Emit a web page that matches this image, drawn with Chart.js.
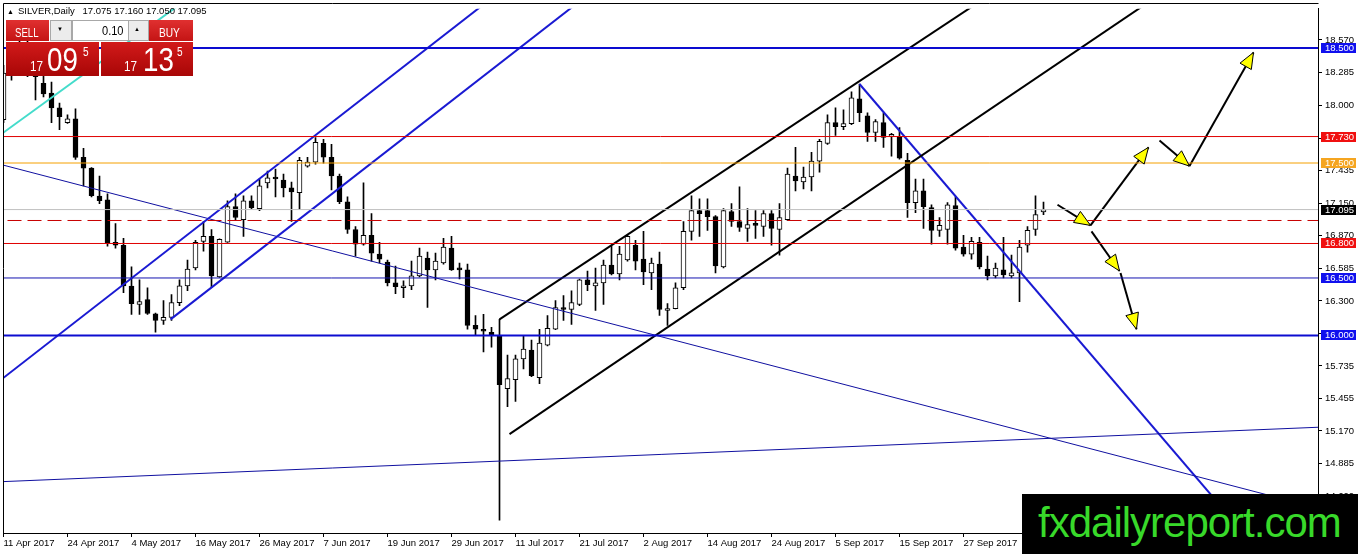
<!DOCTYPE html>
<html>
<head>
<meta charset="utf-8">
<title>SILVER, Daily</title>
<script src="https://cdn.jsdelivr.net/npm/chart.js@4.4.0/dist/chart.umd.min.js"></script>
<style>
  html, body { margin: 0; padding: 0; background: #fff; }
  #wrap { position: relative; width: 1358px; height: 554px; overflow: hidden;
          font-family: 'Liberation Sans', Arial, sans-serif; }
  #wrap canvas { position: absolute; left: 0; top: 0; }
  .abs { position: absolute; white-space: nowrap; }
  .sq { display: inline-block; transform: scaleX(0.84); transform-origin: left top; }
  .title { font-size: 9.5px; line-height: 9.5px; color: #000; }
  .red-top { top: 20px; height: 21px; background: linear-gradient(#e03030, #c41414); }
  .red-box { top: 42px; height: 34px; background: linear-gradient(#d21a1a, #a80606); }
  .spin { top: 20px; height: 19px; background: #ececec; border: 1px solid #a8a8a8; }
  .white { color: #fff; }
  #mark { left: 1022px; top: 494px; width: 336px; height: 60px; background: #000; }
  #mark span { position: absolute; left: 16px; top: 7.5px; font-size: 42px; line-height: 42px;
               letter-spacing: -1px; color: #38d92a; }
</style>
</head>
<body>
<div id="wrap">
  <canvas id="silverChart"></canvas>

  <!-- header text -->
  <div class="abs" style="left:7px;top:8px;font-size:7px;line-height:7px;">&#9650;</div>
  <div class="abs title" style="left:18px;top:6px;">SILVER,Daily</div>
  <div class="abs title" style="left:82.5px;top:6px;">17.075 17.160 17.050 17.095</div>

  <!-- one click trading panel -->
  <div class="abs red-top" style="left:6px;width:43px;"></div>
  <div class="abs white" style="left:15px;top:25.7px;font-size:13px;line-height:13px;"><span class="sq" style="transform:scaleX(0.74)">SELL</span></div>
  <div class="abs spin" style="left:50px;width:20px;"></div>
  <div class="abs" style="left:57px;top:26px;font-size:6px;line-height:6px;">&#9660;</div>
  <div class="abs" style="left:72px;top:20px;width:55px;height:19px;background:#fff;border:1px solid #a8a8a8;"></div>
  <div class="abs" style="left:102px;top:25.3px;font-size:12px;line-height:12px;"><span class="sq" style="transform:scaleX(0.92)">0.10</span></div>
  <div class="abs spin" style="left:128px;width:19px;"></div>
  <div class="abs" style="left:134px;top:26px;font-size:6px;line-height:6px;">&#9650;</div>
  <div class="abs red-top" style="left:149px;width:44px;"></div>
  <div class="abs white" style="left:159px;top:25.7px;font-size:13px;line-height:13px;"><span class="sq" style="transform:scaleX(0.78)">BUY</span></div>

  <div class="abs red-box" style="left:6px;width:93px;"></div>
  <div class="abs red-box" style="left:101px;width:92px;"></div>
  <div class="abs white" style="left:30px;top:59.2px;font-size:14px;line-height:14px;"><span class="sq">17</span></div>
  <div class="abs white" style="left:47px;top:42.6px;font-size:33px;line-height:33px;"><span class="sq">09</span></div>
  <div class="abs white" style="left:83px;top:46.4px;font-size:12px;line-height:12px;"><span class="sq">5</span></div>
  <div class="abs white" style="left:124px;top:59.2px;font-size:14px;line-height:14px;"><span class="sq">17</span></div>
  <div class="abs white" style="left:143px;top:42.6px;font-size:33px;line-height:33px;"><span class="sq">13</span></div>
  <div class="abs white" style="left:177px;top:46.4px;font-size:12px;line-height:12px;"><span class="sq">5</span></div>

  <div id="mark" class="abs"><span>fxdailyreport.com</span></div>
</div>

<script>
// --- data --------------------------------------------------------------
// date labels, one every 8 daily bars starting at bar 0
const tickLabels = ['11 Apr 2017', '24 Apr 2017', '4 May 2017', '16 May 2017', '26 May 2017',
    '7 Jun 2017', '19 Jun 2017', '29 Jun 2017', '11 Jul 2017', '21 Jul 2017', '2 Aug 2017',
    '14 Aug 2017', '24 Aug 2017', '5 Sep 2017', '15 Sep 2017', '27 Sep 2017', '9 Oct 2017'];

const priceTicks = [18.570, 18.285, 18.000, 17.715, 17.435, 17.150, 16.870, 16.585,
    16.300, 16.015, 15.735, 15.455, 15.170, 14.885, 14.600];

const opens = [
    17.877, 18.280, 18.400, 18.500, 18.300, 18.194, 18.108, 17.979, 17.850, 17.885,
    17.549, 17.455, 17.213, 17.179, 16.809, 16.785, 16.430, 16.269, 16.312, 16.189,
    16.131, 16.157, 16.286, 16.432, 16.587, 16.819, 16.862, 16.510, 16.811, 17.120,
    17.008, 17.172, 17.103, 17.327, 17.378, 17.352, 17.284, 17.241, 17.473, 17.507,
    17.671, 17.550, 17.387, 17.163, 16.922, 16.793, 16.871, 16.707, 16.639, 16.458,
    16.415, 16.432, 16.518, 16.673, 16.570, 16.630, 16.759, 16.587, 16.570, 16.088,
    16.045, 16.028, 16.000, 15.538, 15.615, 15.796, 15.873, 15.632, 15.916, 16.054,
    16.243, 16.226, 16.269, 16.484, 16.432, 16.458, 16.613, 16.535, 16.656, 16.785,
    16.664, 16.544, 16.621, 16.217, 16.234, 16.415, 16.905, 17.086, 17.086, 17.034,
    16.596, 17.077, 16.991, 16.931, 16.965, 16.948, 17.060, 16.922, 17.008, 17.387,
    17.335, 17.378, 17.516, 17.671, 17.851, 17.817, 17.843, 18.058, 17.911, 17.765,
    17.851, 17.731, 17.731, 17.524, 17.155, 17.258, 17.112, 16.914, 16.922, 17.129,
    16.768, 16.707, 16.811, 16.578, 16.518, 16.570, 16.518, 16.544, 16.785, 16.922,
    17.075];
const highs = [
    18.350, 18.450, 18.570, 18.560, 18.400, 18.280, 18.203, 18.022, 17.920, 17.971,
    17.627, 17.460, 17.387, 17.232, 16.974, 16.845, 16.596, 16.484, 16.415, 16.195,
    16.303, 16.355, 16.484, 16.656, 16.828, 16.991, 16.922, 16.840, 17.172, 17.232,
    17.215, 17.215, 17.361, 17.430, 17.447, 17.404, 17.335, 17.550, 17.550, 17.722,
    17.705, 17.662, 17.404, 17.206, 16.948, 17.327, 17.060, 16.811, 16.656, 16.604,
    16.475, 16.647, 16.759, 16.725, 16.716, 16.845, 16.862, 16.630, 16.621, 16.174,
    16.183, 16.071, 16.140, 15.830, 15.830, 16.000, 15.959, 16.054, 16.174, 16.303,
    16.346, 16.389, 16.490, 16.561, 16.587, 16.656, 16.776, 16.776, 16.871, 16.828,
    16.905, 16.673, 16.725, 16.277, 16.458, 16.991, 17.215, 17.189, 17.189, 17.043,
    17.103, 17.146, 17.292, 17.103, 17.086, 17.086, 17.086, 17.146, 17.456, 17.636,
    17.464, 17.593, 17.705, 17.920, 17.980, 17.963, 18.118, 18.187, 17.937, 17.877,
    17.937, 17.757, 17.808, 17.585, 17.361, 17.361, 17.137, 17.026, 17.155, 17.206,
    16.871, 16.854, 16.854, 16.690, 16.630, 16.854, 16.699, 16.828, 16.948, 17.215,
    17.160];
const lows = [
    17.851, 18.220, 18.350, 18.250, 18.048, 18.074, 17.851, 17.790, 17.845, 17.532,
    17.300, 17.205, 17.146, 16.776, 16.759, 16.372, 16.183, 16.183, 16.183, 16.028,
    16.097, 16.131, 16.260, 16.389, 16.570, 16.733, 16.415, 16.505, 16.810, 17.000,
    16.862, 17.103, 17.086, 17.284, 17.206, 17.206, 16.991, 17.094, 17.464, 17.490,
    17.499, 17.266, 17.146, 16.888, 16.690, 16.785, 16.647, 16.630, 16.432, 16.363,
    16.329, 16.398, 16.510, 16.243, 16.484, 16.621, 16.565, 16.492, 16.054, 16.000,
    15.856, 15.899, 14.394, 15.380, 15.426, 15.710, 15.641, 15.581, 15.910, 16.050,
    16.131, 16.097, 16.260, 16.389, 16.217, 16.269, 16.527, 16.484, 16.647, 16.570,
    16.441, 16.398, 16.174, 16.088, 16.230, 16.398, 16.828, 16.862, 16.914, 16.544,
    16.587, 16.948, 16.905, 16.819, 16.845, 16.862, 16.785, 16.699, 17.000, 17.258,
    17.275, 17.258, 17.421, 17.662, 17.740, 17.790, 17.834, 17.860, 17.688, 17.688,
    17.636, 17.559, 17.533, 17.026, 17.069, 16.931, 16.793, 16.862, 16.793, 16.742,
    16.690, 16.664, 16.578, 16.484, 16.501, 16.501, 16.500, 16.295, 16.725, 16.871,
    17.050];
const closes = [
    18.281, 18.400, 18.500, 18.300, 18.250, 18.100, 17.979, 17.902, 17.885, 17.549,
    17.456, 17.215, 17.172, 16.802, 16.785, 16.432, 16.277, 16.295, 16.191, 16.131,
    16.157, 16.286, 16.432, 16.578, 16.811, 16.862, 16.518, 16.836, 17.120, 17.026,
    17.172, 17.112, 17.301, 17.370, 17.361, 17.284, 17.249, 17.524, 17.507, 17.679,
    17.550, 17.387, 17.163, 16.922, 16.793, 16.871, 16.716, 16.664, 16.458, 16.424,
    16.432, 16.518, 16.690, 16.570, 16.647, 16.768, 16.570, 16.570, 16.088, 16.054,
    16.037, 16.000, 15.572, 15.624, 15.796, 15.882, 15.650, 15.933, 16.062, 16.243,
    16.226, 16.286, 16.484, 16.441, 16.458, 16.613, 16.535, 16.707, 16.862, 16.647,
    16.553, 16.630, 16.226, 16.234, 16.415, 16.905, 17.086, 17.060, 17.034, 16.604,
    17.086, 16.991, 16.940, 16.965, 16.957, 17.060, 16.931, 17.026, 17.404, 17.344,
    17.378, 17.516, 17.688, 17.851, 17.817, 17.843, 18.066, 17.937, 17.765, 17.860,
    17.722, 17.748, 17.542, 17.155, 17.258, 17.120, 16.914, 16.957, 17.137, 16.759,
    16.707, 16.819, 16.596, 16.518, 16.587, 16.527, 16.544, 16.768, 16.914, 17.051,
    17.095];

// horizontal levels drawn across the whole chart
const levelPrices = [18.500, 17.730, 17.500, 17.095, 17.000, 16.800, 16.500, 16.000];
const levelColors = ['#0c0cd0', '#e00000', '#f5a000', '#c0c0c0', '#c80000', '#e00000', '#1414b0', '#0c0cd0'];
const levelWidths = [2, 1, 1, 1, 1, 1, 1, 2];

// tagged prices on the right axis
const tagPrices = [18.500, 17.730, 17.500, 17.095, 16.800, 16.500, 16.000];
const tagColors = ['#1010ee', '#f01010', '#f5a520', '#000000', '#f01010', '#1010ee', '#1010ee'];

// trend lines as [bar1, price1, bar2, price2]
const trendLines = [
    [0, 17.765, 22.125, 18.883],
    [0, 15.632, 60.25, 18.892],
    [20.875, 16.140, 71.75, 18.892],
    [0, 17.481, 164.4, 14.497],
    [0, 14.729, 164.4, 15.202],
    [62, 16.140, 122, 18.903],
    [63.25, 15.142, 143, 18.893],
    [107, 18.187, 164.4, 13.520]
];
const trendColors = ['#44dccb', '#1a1ad2', '#1a1ad2', '#1010a0', '#1010a0', '#000000', '#000000', '#1a1ad2'];
const trendWidths = [2, 2, 2, 1, 1, 2, 2, 2];

// forecast arrows [bar1, price1, bar2, price2], head at the second point
const arrowSegments = [
    [131.75, 17.137, 135.875, 16.957],
    [135.875, 16.957, 143.125, 17.636],
    [136, 16.905, 139.5, 16.561],
    [139.625, 16.544, 141.625, 16.054],
    [144.5, 17.696, 148.25, 17.473],
    [148.25, 17.473, 156.25, 18.462]
];

// --- chart -----------------------------------------------------------------
const FONT = "'Liberation Sans', Arial, sans-serif";
Chart.defaults.font.family = FONT;
Chart.defaults.font.size = 9.5;
Chart.defaults.color = '#000';

const bars = opens.map((o, i) => i);
const wickData = bars.map(i => ({ x: i, y: [lows[i], highs[i]] }));
const bodyData = bars.map(i => ({ x: i, y: [opens[i], closes[i]] }));

const datasets = [
    {
        type: 'bar', data: wickData, order: 3, grouped: false,
        barThickness: 1, backgroundColor: '#000', borderWidth: 0
    },
    {
        type: 'bar', data: bodyData, order: 2, grouped: false,
        barThickness: 5, minBarLength: 2, borderWidth: 1, borderColor: '#000',
        borderSkipped: false,
        backgroundColor: ctx => closes[ctx.dataIndex] >= opens[ctx.dataIndex] ? '#fff' : '#000'
    }
];

function segment(pts, color, width, dash) {
    return {
        type: 'line', order: 1,
        data: [{ x: pts[0], y: pts[1] }, { x: pts[2], y: pts[3] }],
        borderColor: color, borderWidth: width, borderDash: dash || [],
        pointRadius: 0, fill: false, tension: 0
    };
}

levelPrices.forEach((p, k) => {
    datasets.push(segment([-2, p, 170, p], levelColors[k], levelWidths[k], p === 17.0 ? [14, 6] : null));
});
trendLines.forEach((t, k) => datasets.push(segment(t, trendColors[k], trendWidths[k])));
arrowSegments.forEach(a => datasets.push(segment(a, '#000', 2)));

const frame = {
    id: 'frame',
    afterDraw(chart) {
        const { ctx, chartArea: a } = chart;
        ctx.save();
        ctx.strokeStyle = '#000';
        ctx.lineWidth = 1;
        ctx.beginPath();
        ctx.moveTo(3.5, Math.round(a.bottom) + 0.5);
        ctx.lineTo(3.5, 3.5);
        ctx.lineTo(Math.round(a.right) + 0.5, 3.5);
        ctx.stroke();
        ctx.restore();
    }
};

const arrowHeads = {
    id: 'arrowHeads',
    afterDatasetsDraw(chart) {
        const { ctx, scales: { x, y } } = chart;
        ctx.save();
        arrowSegments.forEach(([x1, y1, x2, y2]) => {
            const ax = x.getPixelForValue(x1), ay = y.getPixelForValue(y1);
            const bx = x.getPixelForValue(x2), by = y.getPixelForValue(y2);
            const ang = Math.atan2(by - ay, bx - ax);
            const len = 16, half = 6.5;
            const cx = bx - len * Math.cos(ang), cy = by - len * Math.sin(ang);
            ctx.beginPath();
            ctx.moveTo(bx, by);
            ctx.lineTo(cx + half * Math.sin(ang), cy - half * Math.cos(ang));
            ctx.lineTo(cx - half * Math.sin(ang), cy + half * Math.cos(ang));
            ctx.closePath();
            ctx.fillStyle = '#ffff00';
            ctx.fill();
            ctx.strokeStyle = '#000';
            ctx.lineWidth = 1;
            ctx.stroke();
        });
        ctx.restore();
    }
};

const priceTags = {
    id: 'priceTags',
    afterDraw(chart) {
        const { ctx, scales: { y } } = chart;
        ctx.save();
        ctx.font = '9.5px ' + FONT;
        ctx.textBaseline = 'middle';
        tagPrices.forEach((p, k) => {
            const py = y.getPixelForValue(p);
            ctx.fillStyle = tagColors[k];
            ctx.fillRect(y.left + 3, Math.round(py) - 5, 35, 10);
            ctx.fillStyle = '#fff';
            ctx.fillText(p.toFixed(3), y.left + 7, Math.round(py) + 0.5);
        });
        ctx.restore();
    }
};

new Chart(document.getElementById('silverChart'), {
    type: 'bar',
    data: { datasets: datasets },
    options: {
        responsive: true,
        maintainAspectRatio: false,
        animation: false,
        events: [],
        layout: { padding: { left: 3.5, top: 3, right: 0, bottom: 0 } },
        plugins: { legend: { display: false }, tooltip: { enabled: false } },
        scales: {
            x: {
                type: 'linear',
                offset: false,
                min: 0,
                max: 164.3125,
                afterFit: s => { s.height = 21; },
                afterBuildTicks: s => { s.ticks = tickLabels.map((t, k) => ({ value: k * 8 })); },
                grid: { offset: false, drawOnChartArea: false, drawTicks: true, tickLength: 4, color: '#000' },
                border: { display: true, color: '#000' },
                ticks: {
                    autoSkip: false, maxRotation: 0, minRotation: 0, align: 'start', padding: 1,
                    callback: v => tickLabels[Math.round(v / 8)] || ''
                }
            },
            y: {
                type: 'linear',
                position: 'right',
                beginAtZero: false,
                min: 14.282,
                max: 18.842,
                afterFit: s => { s.width = 40; },
                afterBuildTicks: s => { s.ticks = priceTicks.map(v => ({ value: v })); },
                grid: { drawOnChartArea: false, drawTicks: true, tickLength: 4, color: '#000' },
                border: { display: true, color: '#000' },
                ticks: { autoSkip: false, padding: 3, callback: v => v.toFixed(3) }
            }
        }
    },
    plugins: [frame, arrowHeads, priceTags]
});
</script>
</body>
</html>
